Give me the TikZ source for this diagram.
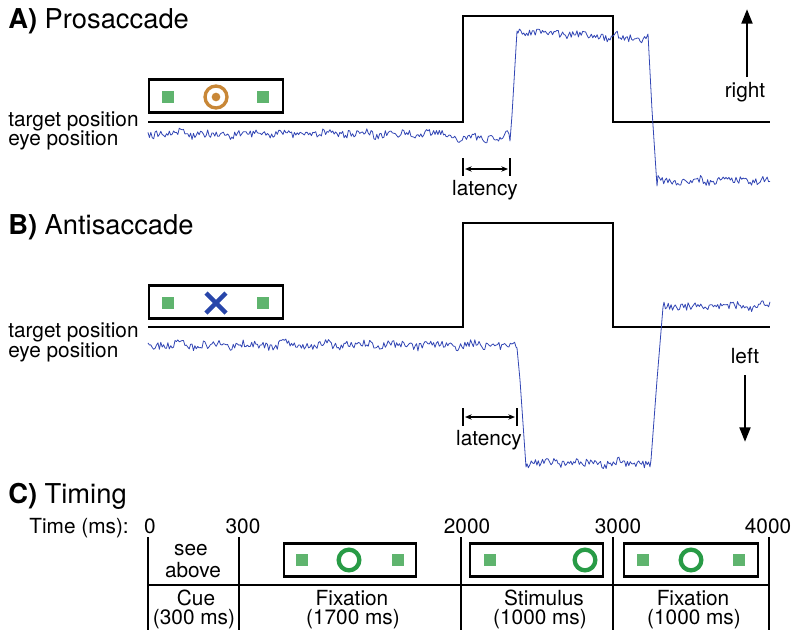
\documentclass[tikz,border=0pt]{standalone}
\usepackage{fontspec}
\setmainfont{TeX Gyre Heros}
\usetikzlibrary{arrows.meta}
\definecolor{eyeblue}{RGB}{50,70,180}
\definecolor{sqgreen}{RGB}{95,180,110}
\definecolor{ringgreen}{RGB}{40,155,70}
\definecolor{ringorange}{RGB}{200,135,55}
\definecolor{crossblue}{RGB}{40,70,170}
\begin{document}
\begin{tikzpicture}[x=0.75pt,y=-0.75pt,
  lbl/.style={font=\fontsize{15.6}{18}\selectfont, inner sep=0pt},
  ttl/.style={font=\fontsize{20.5}{24}\selectfont, inner sep=0pt, anchor=base west},
  tgt/.style={line width=2.2pt, line join=miter},
  eye/.style={eyeblue, line width=0.6pt, line join=round},
  stimbox/.style={draw, line width=2pt, minimum width=#1*0.75pt, minimum height=25pt, inner sep=0pt},
  sq/.style={fill=sqgreen, minimum size=9pt, inner sep=0pt},
  gring/.style={draw=ringgreen, line width=3.2pt, circle, minimum size=15.5pt, inner sep=0pt},
  tline/.style={line width=2.2pt},
  tick/.style={line width=2.2pt},
  latarrow/.style={line width=0.9pt, {Stealth[length=5pt,width=4pt]}-{Stealth[length=5pt,width=4pt]}},
  bigarrow/.style={line width=2.2pt, -{Triangle[length=11pt,width=8pt]}},
  declare function={nz(\t)=3.9*rand+1.4*sin(\t*9.7)+1.0*sin(\t*17.3+40);}
]
\useasboundingbox (0,0) rectangle (800,639);
\pgfmathsetseed{2718}

% ---------------- A) Prosaccade ----------------
\node[ttl] (titA) at (8,28) {\textbf{A)} Prosaccade};
\node[lbl, anchor=base west] (tpA) at (8,126) {target position};
\node[lbl, anchor=base west] (epA) at (8,145) {eye position};

\node[stimbox=134] (boxA) at (216,96) {};
\node[sq] (sqA1) at (168,97) {};
\node[sq] (sqA2) at (263,97) {};
\node[draw=ringorange, line width=2.5pt, circle, minimum size=16.5pt, inner sep=0pt] (ringA) at (216,97) {};
\node[fill=ringorange, circle, minimum size=6.5pt, inner sep=0pt] (dotA) at (216,97) {};

\draw[tgt] (148,122) -| (463,16) -| (613,122) -- (770,122);

\draw[eye] plot[domain=148:445, samples=210] (\x,{134+nz(\x)})
  -- plot[domain=446:500, samples=38] (\x,{138+nz(\x)})
  -- plot[domain=501:509, samples=6] (\x,{135+nz(\x)})
  -- (510,141) -- (512,115) -- (517,31)
  -- plot[domain=518:646, samples=90] (\x,{31+0.06*(\x-518)+nz(\x)})
  -- (648,34) -- (652,110) -- (657,186)
  -- plot[domain=658:770, samples=80] (\x,{181+nz(\x)});

\coordinate (latA1t) at (463,158); \coordinate (latA1b) at (463,176);
\coordinate (latA2t) at (510,158); \coordinate (latA2b) at (510,176);
\draw[tick] (latA1t) -- (latA1b);
\draw[tick] (latA2t) -- (latA2b);
\coordinate (latAl) at (465,169); \coordinate (latAr) at (508,169);
\draw[latarrow] (latAl) -- (latAr);
\node[lbl, anchor=base] (latA) at (485,195) {latency};

\coordinate (rbot) at (747,77); \coordinate (rtip) at (747,9);
\draw[bigarrow] (rbot) -- (rtip);
\node[lbl, anchor=base] (rightlbl) at (745,97) {right};

% ---------------- B) Antisaccade ----------------
\node[ttl] (titB) at (8,234) {\textbf{B)} Antisaccade};
\node[lbl, anchor=base west] (tpB) at (8,337) {target position};
\node[lbl, anchor=base west] (epB) at (8,357) {eye position};

\node[stimbox=134] (boxB) at (216,302) {};
\node[sq] (sqB1) at (168,303) {};
\node[sq] (sqB2) at (263,303) {};
\coordinate (xa) at (206,293); \coordinate (xb) at (226,313);
\coordinate (xc) at (206,313); \coordinate (xd) at (226,293);
\draw[crossblue, line width=3.2pt] (xa) -- (xb) (xc) -- (xd);

\draw[tgt] (148,327) -| (463,223) -| (613,327) -- (770,327);

\draw[eye] plot[domain=148:516, samples=260] (\x,{345+nz(\x)})
  -- (517,348) -- (520,380) -- (526,467)
  -- plot[domain=527:650, samples=88] (\x,{463+nz(\x)})
  -- (651,460) -- (657,380) -- (663,307)
  -- plot[domain=664:770, samples=76] (\x,{306+nz(\x)});

\coordinate (latB1t) at (463,408); \coordinate (latB1b) at (463,426);
\coordinate (latB2t) at (517,408); \coordinate (latB2b) at (517,426);
\draw[tick] (latB1t) -- (latB1b);
\draw[tick] (latB2t) -- (latB2b);
\coordinate (latBl) at (465,417); \coordinate (latBr) at (515,417);
\draw[latarrow] (latBl) -- (latBr);
\node[lbl, anchor=base] (latB) at (489,445) {latency};

\node[lbl, anchor=base] (leftlbl) at (745,363) {left};
\coordinate (ltop) at (745,375); \coordinate (ltip) at (745,442);
\draw[bigarrow] (ltop) -- (ltip);

% ---------------- C) Timing ----------------
\node[ttl] (titC) at (8,503) {\textbf{C)} Timing};
\node[lbl, anchor=base east] (timelbl) at (129,533) {Time (ms):};
\node[lbl, anchor=base] (t0) at (150,533) {0};
\node[lbl, anchor=base] (t300) at (243,533) {300};
\node[lbl, anchor=base] (t2000) at (467,533) {2000};
\node[lbl, anchor=base] (t3000) at (618,533) {3000};
\node[lbl, anchor=base] (t4000) at (768,533) {4000};

\coordinate (v0t) at (148,537); \coordinate (v0b) at (148,630);
\coordinate (v1t) at (239,537); \coordinate (v1b) at (239,630);
\coordinate (v2t) at (461,537); \coordinate (v2b) at (461,630);
\coordinate (v3t) at (613,537); \coordinate (v3b) at (613,630);
\coordinate (v4t) at (769,537); \coordinate (v4b) at (769,630);
\draw[tline] (v0t) -- (v0b);
\draw[tline] (v1t) -- (v1b);
\draw[tline] (v2t) -- (v2b);
\draw[tline] (v3t) -- (v3b);
\draw[tline] (v4t) -- (v4b);
\coordinate (hl) at (148,585); \coordinate (hr) at (769,585);
\draw[line width=2pt] (hl) -- (hr);

\node[lbl, anchor=base] (see) at (191,555) {see};
\node[lbl, anchor=base] (above) at (193,577) {above};

\node[stimbox=132] (fix1box) at (350,560) {};
\node[sq] (f1s1) at (302,560) {};
\node[sq] (f1s2) at (398,560) {};
\node[gring] (f1c) at (349,560) {};

\node[stimbox=133] (stimbox1) at (536.5,560) {};
\node[sq] (s1s) at (490,560) {};
\node[gring] (s1c) at (585,560) {};

\node[stimbox=134] (fix2box) at (691,560) {};
\node[sq] (f2s1) at (643,560) {};
\node[sq] (f2s2) at (739,560) {};
\node[gring] (f2c) at (691,560) {};

\node[lbl, anchor=base] (cue) at (196,605) {Cue};
\node[lbl, anchor=base] (cued) at (194,624) {(300 ms)};
\node[lbl, anchor=base] (fix1) at (352,605) {Fixation};
\node[lbl, anchor=base] (fix1d) at (353,624) {(1700 ms)};
\node[lbl, anchor=base] (stim) at (544,605) {Stimulus};
\node[lbl, anchor=base] (stimd) at (540,624) {(1000 ms)};
\node[lbl, anchor=base] (fix2) at (693,605) {Fixation};
\node[lbl, anchor=base] (fix2d) at (694,624) {(1000 ms)};
\end{tikzpicture}
\end{document}
